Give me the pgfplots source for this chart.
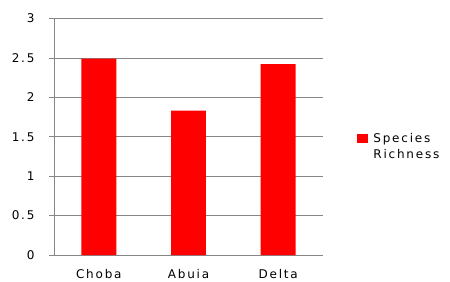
\documentclass[border=0pt]{standalone}
\usepackage{pgfplots}
\pgfplotsset{compat=1.18}
\usepackage{fontspec}
\setmainfont{DejaVu Sans}[LetterSpace=15]
\definecolor{gridgray}{HTML}{868686}
\begin{document}
\begin{tikzpicture}[font=\fontsize{12pt}{14pt}\selectfont]
\begin{axis}[
  name=ax,
  scale only axis,
  width=269pt, height=236.5pt,
  xmin=-0.5, xmax=2.5,
  ymin=0, ymax=3,
  ybar, bar width=0.39,
  axis x line*=bottom, axis y line*=left,
  axis line style={gridgray, line width=0.8pt, -},
  xtick={0,1,2},
  xticklabels={Choba,Abuia,Delta},
  x tick style={draw=none},
  minor xtick={-0.5,0.5,1.5,2.5},
  minor x tick style={gridgray, line width=0.8pt},
  minor tick length=4pt,
  ytick={0,0.5,1,1.5,2,2.5,3},
  yticklabels={0,0.5,1,1.5,2,2.5,3},
  y tick style={gridgray, line width=0.8pt},
  major tick length=5pt,
  tick align=outside,
  ymajorgrids,
  major grid style={gridgray, line width=0.8pt},
  xticklabel style={yshift=-6pt},
  yticklabel style={xshift=-11pt},
  /pgf/number format/assume math mode=true,
  legend style={draw=none, at={(1.127,0.5)}, anchor=west, yshift=-10pt, font=\fontsize{12pt}{14pt}\selectfont, row sep=1pt, inner sep=0pt,
    nodes={inner xsep=5pt}},
  legend cell align=left,
  legend image code/.code={\fill[red] (0pt,-4.5pt) rectangle (11pt,4.5pt);},
]
\addplot[fill=red, draw=none] coordinates {(0,2.49) (1,1.83) (2,2.42)};
\addlegendentry{Species}
\addlegendimage{empty legend}
\addlegendentry{Richness}
\end{axis}
\pgfresetboundingbox
\path[use as bounding box] ([shift={(-54pt,-26pt)}]ax.south west) rectangle ([shift={(127pt,18.5pt)}]ax.north east);
\end{tikzpicture}
\end{document}
